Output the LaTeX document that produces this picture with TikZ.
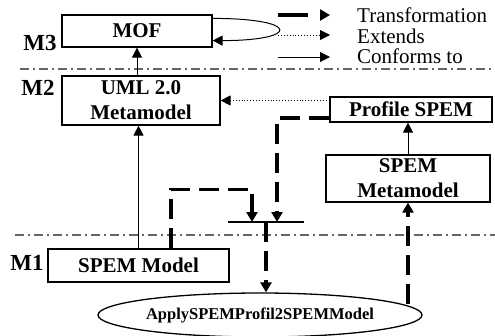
\documentclass[tikz,border=0pt]{standalone}
\usepackage{fontspec}
\setmainfont{Liberation Serif}
\usetikzlibrary{arrows.meta,shapes.geometric}

\begin{document}
\begin{tikzpicture}[x=1pt,y=-1pt,
  box/.style={draw,line width=1.2pt,align=center,inner sep=0pt,font=\fontsize{21}{25}\selectfont\bfseries},
  lvl/.style={inner sep=0pt,font=\fontsize{23}{25}\selectfont\bfseries},
  leg/.style={anchor=west,inner sep=0pt,font=\fontsize{21}{22}\selectfont},
  sep/.style={draw=black!60,line width=1.4pt,dash pattern=on 9pt off 4pt on 2pt off 4pt},
  conf/.style={-{Triangle[length=10pt,width=10pt]},line width=1pt},
  ext/.style={-{Triangle[length=10pt,width=10pt]},line width=0.9pt,dotted},
  trans/.style={-{Triangle[length=10pt,width=11pt]},line width=3.2pt,dash pattern=on 20pt off 9pt}]
\useasboundingbox (0,0) rectangle (495,335);

% levels
\draw[sep] (20,69) -- (495,69);
\draw[sep] (15,235) -- (495,235);
\node[lvl] (m3) at (40,43)  {M3};
\node[lvl] (m2) at (38,88)  {M2};
\node[lvl] (m1) at (27,263) {M1};

% models
\node[box,minimum width=150pt,minimum height=32pt] (mof)       at (137,31)    {MOF};
\node[box,minimum width=158pt,minimum height=49pt] (uml)       at (141,100.5) {UML 2.0\\Metamodel};
\node[box,minimum width=162pt,minimum height=25pt] (profile)   at (411,109.5) {Profile SPEM};
\node[box,minimum width=164pt,minimum height=47pt] (metaspem)  at (408,178.5) {SPEM\\Metamodel};
\node[box,minimum width=181pt,minimum height=33pt] (spemmodel) at (138.5,265.5) {SPEM Model};
\node[ellipse,draw,line width=1.3pt,minimum width=324pt,minimum height=44pt,inner sep=0pt,
      font=\fontsize{16.5}{18}\selectfont\bfseries] (apply) at (260,315) {ApplySPEMProfil2SPEMModel};

% join of the transformation
\coordinate (barL) at (228,222);
\coordinate (barR) at (304,222);
\coordinate (barA) at (252,222);
\coordinate (barB) at (277,222);
\coordinate (barC) at (266,222);
\coordinate (appR) at (408,304);
\draw[line width=2pt] (barL) -- (barR);

% legend
\coordinate (tr1) at (278,15); \coordinate (tr2) at (330,15);
\coordinate (ex1) at (278,35); \coordinate (ex2) at (330,35);
\coordinate (co1) at (278,57); \coordinate (co2) at (330,57);
\draw[trans,dash pattern=on 30pt off 12pt] (tr1) -- (tr2);
\draw[ext] (ex1) -- (ex2);
\draw[conf] (co1) -- (co2);
\node[leg] (trtxt) at (357,15) {Transformation};
\node[leg] (extxt) at (357,36) {Extends};
\node[leg] (cotxt) at (357,56) {Conforms to};

% connectors
\draw[conf] ([yshift=-4pt]mof.north east) .. controls +(88,0) and +(88,0) .. ([yshift=7pt]mof.south east);
\draw[conf] (uml.north -| mof.south) -- (mof.south);
\draw[conf] (spemmodel.north) -- (spemmodel.north |- uml.south);
\draw[conf] (metaspem.north) -- (metaspem.north |- profile.south);
\draw[ext] (profile.west |- uml.east) -- (uml.east);
\draw[trans] ([xshift=32.5pt]spemmodel.north) -- ++(0,-59) -| (barA);
\draw[trans] ([yshift=-8.5pt]profile.west) -| (barB);
\draw[trans] (barC) -- (barC |- apply.north);
\draw[trans] (appR) -- (metaspem.south);
\end{tikzpicture}
\end{document}
